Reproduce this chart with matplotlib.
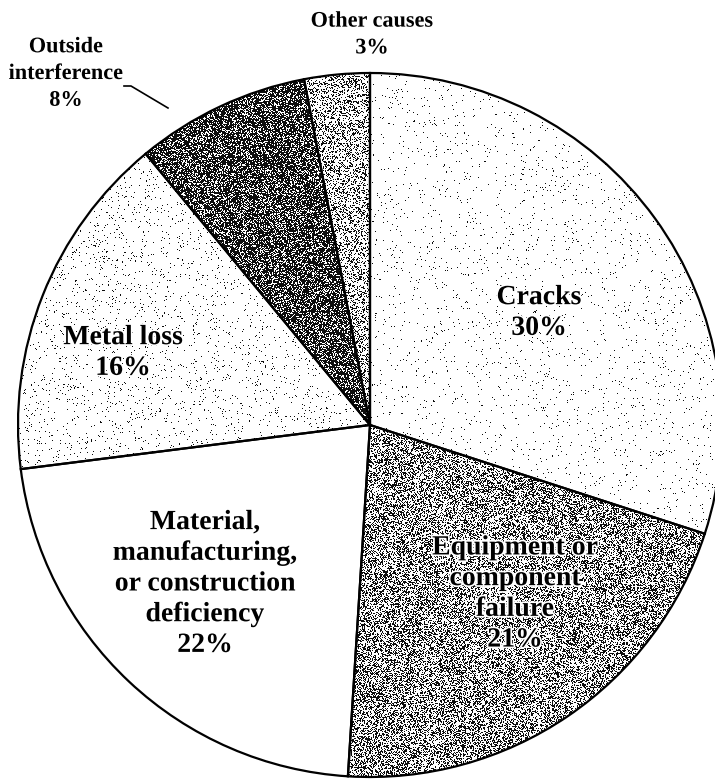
import numpy as np
import matplotlib
matplotlib.use("Agg")
import matplotlib.pyplot as plt
import matplotlib.patheffects as pe

# Failure causes, clockwise from 12 o'clock
CAUSES = [
    "Cracks",
    "Equipment or\ncomponent\nfailure",
    "Material,\nmanufacturing,\nor construction\ndeficiency",
    "Metal loss",
    "Outside\ninterference",
    "Other causes",
]
SHARES = [30, 21, 22, 16, 8, 3]

# texture density (share of black specks) per wedge
DENSITY = [0.02, 0.42, 0.0, 0.035, 0.7, 0.3]

W, H = 715, 780
CX, CY, R = 370, 780 - 425, 352

fig = plt.figure(figsize=(W / 100, H / 100), dpi=100)
ax = fig.add_axes([0, 0, 1, 1])

wedges, _ = ax.pie(
    SHARES,
    center=(CX, CY),
    radius=R,
    startangle=90,
    counterclock=False,
    colors=["none"] * len(SHARES),
    wedgeprops={"edgecolor": "black", "linewidth": 1.6, "zorder": 2},
    frame=True,
)
ax.set_xlim(0, W)
ax.set_ylim(0, H)
ax.set_aspect("equal")
ax.axis("off")

# speckle texture inside each wedge (fixed seed -> same picture every run)
rng = np.random.default_rng(3)
for w, d in zip(wedges, DENSITY):
    if d <= 0:
        continue
    dots = rng.random((H, W)) < d
    img = np.zeros((H, W, 4))
    img[..., 3] = dots * 0.95
    im = ax.imshow(img, extent=(0, W, 0, H), origin="lower",
                   interpolation="nearest", zorder=1.5)
    im.set_clip_path(w)
ax.set_xlim(0, W)
ax.set_ylim(0, H)

halo = [pe.withStroke(linewidth=2.5, foreground="white")]
inner = dict(family="Liberation Serif", fontweight="bold", fontsize=20,
             ha="center", va="center", linespacing=1.3, zorder=3,
             path_effects=halo)
outer = dict(inner, fontsize=16, linespacing=1.45)

labels = [f"{c}\n{s}%" for c, s in zip(CAUSES, SHARES)]
positions = [(539, 313), (515, 594), (205, 584), (123, 353), (66, 74), (372, 35)]
styles = [inner, inner, inner, inner, outer, outer]
for text, (x, y), st in zip(labels, positions, styles):
    ax.text(x, H - y, text, **st)

# leader line for the small outside-interference wedge
ax.plot([124, 131, 168], [H - 86, H - 86, H - 108], color="black",
        linewidth=1.2, zorder=3)

fig.savefig("out.png", dpi=100)
